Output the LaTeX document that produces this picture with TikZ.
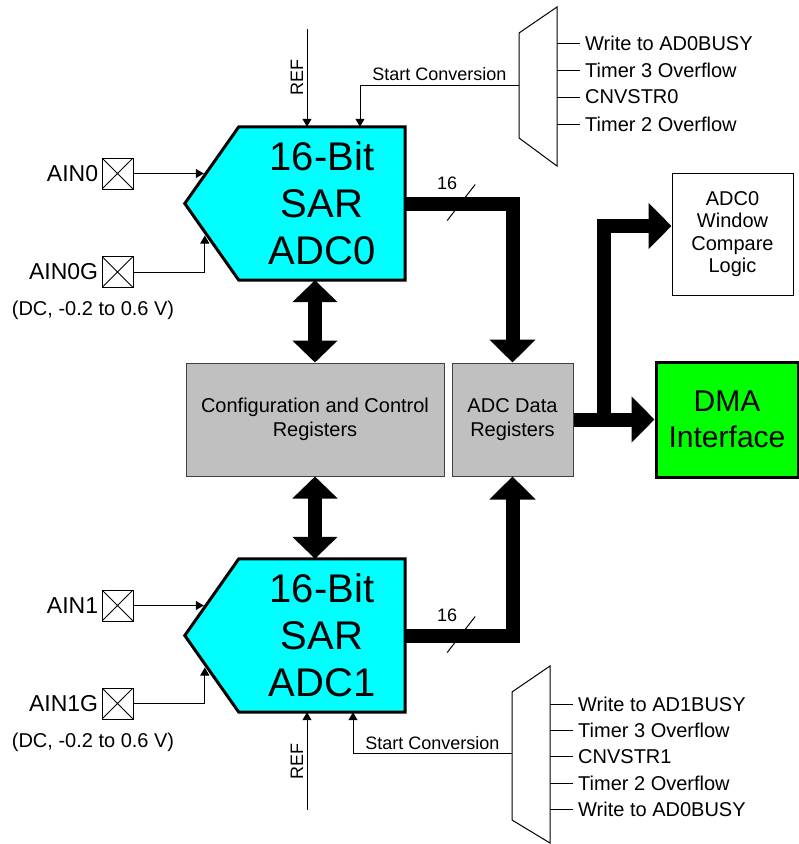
\documentclass[tikz,border=0pt]{standalone}
\usepackage{fontspec}
\setmainfont{Liberation Sans}
\usetikzlibrary{arrows.meta,positioning,calc,backgrounds}

\definecolor{adccyan}{RGB}{0,255,255}
\definecolor{dmagreen}{RGB}{0,255,0}
\definecolor{reggray}{RGB}{192,192,192}

\tikzset{
  adcbox/.style={minimum width=166pt, minimum height=153pt, inner sep=0pt, align=center, font=\fontsize{40}{47}\selectfont},
  adcbody/.style={draw, line width=3pt, fill=adccyan, line join=miter},
  regbox/.style={draw=black!75, line width=1pt, fill=reggray, minimum height=113pt, inner sep=0pt, align=center, font=\fontsize{20}{24}\selectfont},
  padbox/.style={draw, line width=.8pt, minimum size=31pt, inner sep=0pt,
    path picture={\draw[line width=.8pt] (path picture bounding box.north west) -- (path picture bounding box.south east)
      (path picture bounding box.south west) -- (path picture bounding box.north east);}},
  padlbl/.style={font=\fontsize{23}{27}\selectfont},
  note/.style={font=\fontsize{20}{24}\selectfont},
  small/.style={font=\fontsize{18}{22}\selectfont},
  insig/.style={font=\fontsize{20}{24}\selectfont, anchor=west, inner sep=5pt},
  sig/.style={line width=1pt},
  sigarrow/.style={line width=1pt, -{Triangle[length=8pt,width=9pt]}},
  bus/.style={line width=14pt, line join=miter, -{Triangle[length=23pt,width=45pt]}},
  dbus/.style={bus, {Triangle[length=22pt,width=44pt]}-{Triangle[length=22pt,width=44pt]}}
}

\begin{document}
\begin{tikzpicture}[x=1pt,y=-1pt]
\useasboundingbox (0,0) rectangle (799,844);

% converters
\node[adcbox] (adc0) at (322,203.5) {16-Bit\\SAR\\ADC0};
\node[adcbox] (adc1) at (322,635.5) {16-Bit\\SAR\\ADC1};
\begin{pgfonlayer}{background}
\foreach \a in {adc0,adc1}
  \draw[adcbody] (\a.north west) -- (\a.north east) -- (\a.south east) -- (\a.south west) -- ([xshift=-54pt]\a.west) -- cycle;
\end{pgfonlayer}

% registers and outputs
\node[regbox, minimum width=258pt] (cfg) at (315,419.5) {Configuration and Control\\Registers};
\node[regbox, minimum width=121pt] (data) at (512.5,419.5) {ADC Data\\Registers};
\node[draw, line width=3pt, fill=dmagreen, minimum width=142pt, minimum height=115pt, align=center,
  font=\fontsize{30}{36}\selectfont] (dma) at (727,419.5) {DMA\\Interface};
\node[draw, line width=1pt, minimum width=121pt, minimum height=122pt, align=center,
  font=\fontsize{20}{22.5}\selectfont] (win) at (732.5,234) {ADC0\\Window\\Compare\\Logic};

% analog inputs
\node[padbox] (ain0) at (117.5,173.5) {};
\node[padbox] (ain0g) at (117.5,272) {};
\node[padbox] (ain1) at (117.5,605.5) {};
\node[padbox] (ain1g) at (117.5,703.5) {};
\node[padlbl, left=0pt of ain0] (ain0lbl) {AIN0};
\node[padlbl, left=0pt of ain0g] (ain0glbl) {AIN0G};
\node[padlbl, left=0pt of ain1] (ain1lbl) {AIN1};
\node[padlbl, left=0pt of ain1g] (ain1glbl) {AIN1G};
\node[note] (dc0) at (93,310) {(DC, -0.2 to 0.6 V)};
\node[note] (dc1) at (93,742) {(DC, -0.2 to 0.6 V)};

\coordinate (a0tip) at ([xshift=-35pt]adc0.west);
\coordinate (a0gtip) at ([xshift=-34pt,yshift=-32pt]adc0.west);
\coordinate (a1tip) at ([xshift=-35pt]adc1.west);
\coordinate (a1gtip) at ([xshift=-34pt,yshift=-32pt]adc1.west);
\draw[sigarrow] (ain0.east) -- (ain0.east -| a0tip);
\draw[sigarrow] (ain0g.east) -| (a0gtip);
\draw[sigarrow] (ain1.east) -- (ain1.east -| a1tip);
\draw[sigarrow] (ain1g.east) -| (a1gtip);

% references
\coordinate (ref0) at (307,29);
\coordinate (ref1) at (307,810);
\draw[sigarrow] (ref0) -- (ref0 |- adc0.north) node[small, midway, rotate=90, anchor=south] (ref0lbl) {REF};
\draw[sigarrow] (ref1) -- (ref1 |- adc1.south) node[small, midway, rotate=90, anchor=south] (ref1lbl) {REF};

% start of conversion muxes
\coordinate (mux0) at (519,85);
\coordinate (mux0r) at ($(mux0)+(38,0)$);
\draw[sig] (mux0) ++(0,-52) -- ++(38,-26) -- ++(0,159) -- ++(-38,-28) -- cycle;
\foreach \txt [count=\i] in {Write to AD0BUSY, Timer 3 Overflow, CNVSTR0, Timer 2 Overflow} {
  \node[insig] (src0\i) at (580,16+27*\i) {\txt};
  \draw[sig] (src0\i.west) -- (src0\i.west -| mux0r);
}
\draw[sigarrow] (mux0) -| ([xshift=38pt]adc0.north) node[small, pos=.25, above] (sc0) {Start Conversion};

\coordinate (mux1) at (512,753);
\coordinate (mux1r) at ($(mux1)+(38,0)$);
\draw[sig] (mux1) ++(0,-61) -- ++(38,-26) -- ++(0,177) -- ++(-38,-23) -- cycle;
\foreach \txt [count=\i] in {Write to AD1BUSY, Timer 3 Overflow, CNVSTR1, Timer 2 Overflow, Write to AD0BUSY} {
  \node[insig] (src1\i) at (573,678+26.3*\i) {\txt};
  \draw[sig] (src1\i.west) -- (src1\i.west -| mux1r);
}
\draw[sigarrow] (mux1) -| ([xshift=31pt]adc1.south) node[small, pos=.25, above] (sc1) {Start Conversion};

% data buses
\draw[bus] (adc0.east) -| (data.north);
\draw[bus] (adc1.east) -| (data.south);
\draw[bus] (data.east) -- (dma.west);
\coordinate (fork) at ([xshift=30pt]data.east);
\draw[bus] (fork) |- ([yshift=8pt]win.west);
\draw[dbus] (cfg.north) -- (cfg.north |- adc0.south);
\draw[dbus] (cfg.south) -- (cfg.south |- adc1.north);

% bus widths
\coordinate (s0) at ([xshift=56pt]adc0.east);
\coordinate (s1) at ([xshift=56pt]adc1.east);
\foreach \s in {s0,s1} {
  \draw[sig] ($(\s)+(-14,17)$) -- ($(\s)+(14,-19)$);
  \node[small] (\s w) at ($(\s)+(-14,-20)$) {16};
}
\end{tikzpicture}
\end{document}
